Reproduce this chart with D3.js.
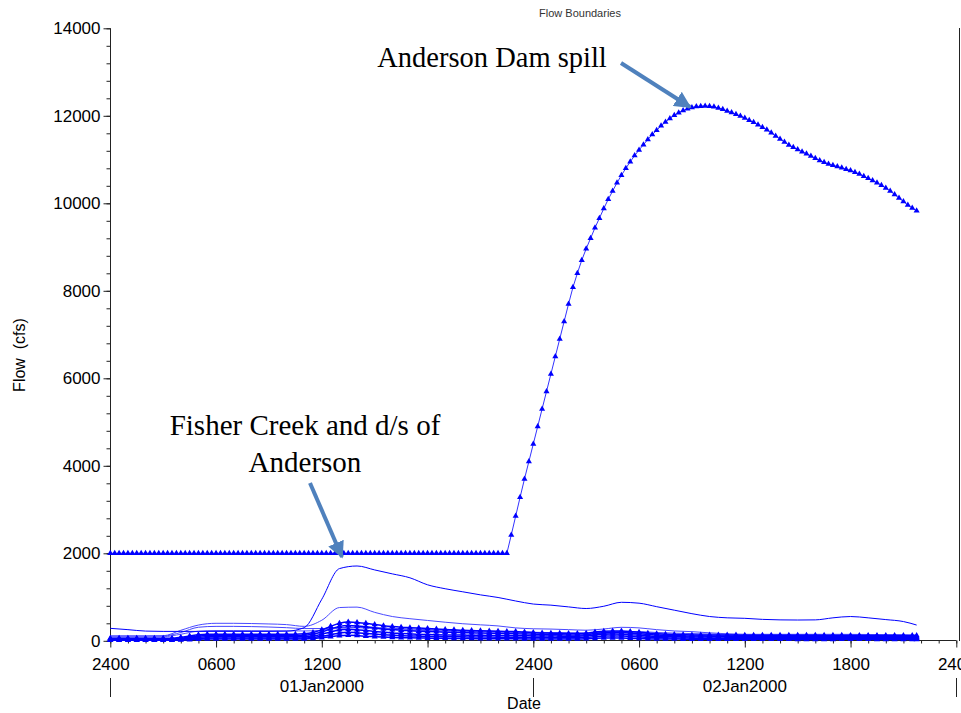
<!DOCTYPE html>
<html><head><meta charset="utf-8">
<script src="https://cdn.jsdelivr.net/npm/d3@7/dist/d3.min.js"></script>
<style>body{margin:0;background:#fff}svg{display:block}</style>
</head><body>
<svg id="c" width="961" height="713"></svg>
<script>
// ---------- DATA ----------
const chartTitle = "Flow Boundaries";
const yTicks = [0, 2000, 4000, 6000, 8000, 10000, 12000, 14000];
const xTickHours = [0, 6, 12, 18, 24, 30, 36, 42, 48];
const xTickLabels = ["2400","0600","1200","1800","2400","0600","1200","1800","2400"];
const dayHours = [12, 36];
const dayLabels = ["01Jan2000", "02Jan2000"];
const daySeparatorHours = [0, 24, 48];

// Anderson Dam spill, every 15 minutes from 2400 31Dec1999
const spillStepHours = 0.25;
const spillFlow = [
2000,2000,2000,2000,2000,2000,2000,2000,2000,2000,
2000,2000,2000,2000,2000,2000,2000,2000,2000,2000,
2000,2000,2000,2000,2000,2000,2000,2000,2000,2000,
2000,2000,2000,2000,2000,2000,2000,2000,2000,2000,
2000,2000,2000,2000,2000,2000,2000,2000,2000,2000,
2000,2000,2000,2000,2000,2000,2000,2000,2000,2000,
2000,2000,2000,2000,2000,2000,2000,2000,2000,2000,
2000,2000,2000,2000,2000,2000,2000,2000,2000,2000,
2000,2000,2000,2000,2000,2000,2000,2000,2000,2000,
2000,
2420,2850,3280,3700,4100,4500,4900,5300,5700,6100,
6500,6900,7300,7700,8080,8400,8700,8960,9200,9440,
9660,9880,10090,10280,10470,10640,10800,10950,11090,11220,
11340,11460,11570,11670,11770,11860,11940,12010,12070,12120,
12160,12190,12210,12220,12225,12220,12205,12180,12150,12110,
12075,12035,11995,11950,11900,11850,11795,11740,11680,11610,
11540,11470,11400,11330,11280,11230,11180,11130,11080,11030,
10980,10940,10900,10870,10840,10810,10780,10750,10710,10670,
10620,10570,10520,10470,10410,10350,10280,10200,10120,10040,
9960,9890,9830
];

// Hourly thin-line boundaries (last sample at 45.75 h)
const lineHours = [0,1,2,3,4,5,6,7,8,9,10,11,12,13,14,15,16,17,18,19,20,21,22,23,24,25,26,27,28,29,30,31,32,33,34,35,36,37,38,39,40,41,42,43,44,45,45.75];
const fisherFlow = [285,255,222,215,215,215,215,215,215,215,220,300,950,1650,1710,1620,1530,1440,1280,1190,1120,1050,990,910,840,815,775,738,790,880,860,780,700,620,555,525,514,490,478,475,478,525,555,525,485,440,360];
const line2Flow = [110,110,110,115,240,360,400,400,395,385,370,330,470,760,770,650,555,505,465,425,390,365,340,295,275,268,255,242,270,308,295,255,225,209,182,160,148,148,148,148,148,148,147,145,140,135,130];
const line3Flow = [110,110,110,110,190,310,330,330,325,315,300,280,280,300,310,300,285,270,255,240,230,222,215,205,195,188,182,178,195,215,210,190,175,165,155,148,145,140,135,135,135,140,145,140,135,130,120];
const line4Flow = [85,85,85,90,150,220,235,235,232,230,228,225,240,290,300,280,260,245,232,222,215,208,200,190,180,172,165,160,170,185,180,165,150,140,130,122,118,115,112,110,110,112,115,112,108,104,98];

// Half-hourly marked boundaries (last sample at 45.75 h)
const markHours = d3.range(0, 46, 0.5).concat([45.75]);
const mark1Flow = [60,60,60,60,60,60,60,60,80,110,140,150,
150,150,150,150,150,150,150,150,150,150,
160,190,250,330,400,430,420,400,370,345,325,310,300,290,280,270,260,250,240,235,230,225,220,215,210,200,190,180,175,170,168,168,175,200,220,225,225,215,195,175,160,150,145,140,135,135,130,
130,130,130,128,128,128,126,126,126,125,125,125,124,124,124,123,123,122,122,121,121,120,120,
120];
const mark2Flow = [30,30,30,30,30,30,30,30,40,60,80,90,
90,90,90,90,90,90,90,90,90,90,
95,110,150,200,250,265,255,235,215,195,180,170,160,150,145,140,135,132,130,128,126,124,122,120,118,115,112,110,108,106,105,106,115,135,150,155,150,140,125,110,100,95,92,90,88,86,85,
85,84,84,83,83,82,82,81,81,80,80,80,80,80,82,84,84,82,80,78,76,75,74,
72];
const mark3Flow = [15,15,15,15,15,15,15,15,18,25,35,40,
40,40,40,40,40,40,40,40,40,40,
42,50,70,95,115,125,120,105,95,85,78,72,68,64,60,58,56,54,52,50,49,48,47,46,45,44,43,42,41,40,40,41,46,55,62,64,62,56,50,45,42,40,39,38,37,36,36,
35,35,35,34,34,34,33,33,33,32,32,32,32,32,33,34,34,33,32,31,30,30,29,
28];
const mark4Flow = [45,45,45,45,45,45,45,45,60,85,110,120,
120,120,120,120,120,120,120,120,120,120,
128,150,200,270,330,350,340,320,295,270,255,240,230,220,212,205,198,192,186,182,178,174,170,166,162,156,150,144,140,136,134,134,140,165,185,190,188,178,160,142,130,122,118,114,110,108,106,
106,105,105,104,104,103,103,102,102,101,101,100,100,100,102,104,104,102,100,98,96,95,94,
92];
const mark5Flow = [22,22,22,22,22,22,22,22,28,40,55,62,
62,62,62,62,62,62,62,62,62,62,
66,78,105,140,180,195,185,170,155,140,128,120,112,106,100,97,94,92,90,88,86,85,84,82,80,78,76,74,72,70,70,72,80,95,108,112,108,98,88,78,72,68,65,63,61,60,59,
58,58,58,57,57,57,56,56,56,55,55,55,55,55,56,57,57,56,55,54,53,52,51,
50];

const annotations = [
  {lines: ["Anderson Dam spill"], cx: 492, y: 67, size: 28.5, from: [621, 63], to: [690, 107]},
  {lines: ["Fisher Creek and d/s of", "Anderson"], cx: 305, y: 435, size: 29, from: [310, 483], to: [342, 557]}
];

// ---------- CHART ----------
const svg = d3.select("#c");
const x = d3.scaleLinear().domain([0, 48]).range([110.3, 956.3]);
const y = d3.scaleLinear().domain([0, 14000]).range([640.8, 28.3]);
const SANS = "'Liberation Sans', Arial, sans-serif";
const SERIF = "'Liberation Serif', 'Times New Roman', serif";
const BLUE = "#0000ff";

// title
svg.append("text").attr("x", 580).attr("y", 17).attr("text-anchor", "middle")
  .attr("font-family", SANS).attr("font-size", 11).attr("fill", "#333").text(chartTitle);

// right frame line
svg.append("line").attr("x1", 959.5).attr("x2", 959.5).attr("y1", 28).attr("y2", 641)
  .attr("stroke", "#222").attr("stroke-width", 1);

// Y axis
const yMinor = d3.range(0, 14001, 400);
svg.append("g").attr("transform", "translate(110.5,0)")
  .call(d3.axisLeft(y).tickValues(yMinor).tickSize(4).tickFormat(""))
  .call(g => g.select(".domain").remove())
  .selectAll("line").attr("stroke", "#222");
const yAx = svg.append("g").attr("transform", "translate(110.5,0)")
  .call(d3.axisLeft(y).tickValues(yTicks).tickSize(7).tickPadding(3).tickFormat(d3.format("d")));
yAx.select(".domain").attr("stroke", "#222").attr("d", `M0,${y(14000)}V${y(0)}`);
yAx.selectAll("line").attr("stroke", "#222");
yAx.selectAll("text").attr("font-family", SANS).attr("font-size", 17).attr("fill", "#000");

// X axis
const xMinor = d3.range(0, 49, 1);
svg.append("g").attr("transform", "translate(0,640.5)")
  .call(d3.axisBottom(x).tickValues(xMinor).tickSize(3).tickFormat(""))
  .call(g => g.select(".domain").remove())
  .selectAll("line").attr("stroke", "#222");
const xAx = svg.append("g").attr("transform", "translate(0,640.5)")
  .call(d3.axisBottom(x).tickValues(xTickHours).tickSize(7).tickPadding(10)
    .tickFormat((d, i) => xTickLabels[i]));
xAx.select(".domain").attr("stroke", "#222").attr("d", `M${x(0)},0H${x(48)}`);
xAx.selectAll("line").attr("stroke", "#222");
xAx.selectAll("text").attr("font-family", SANS).attr("font-size", 17).attr("fill", "#000");

// day labels and separators
svg.append("g").selectAll("text").data(dayHours).join("text")
  .attr("x", d => x(d)).attr("y", 692).attr("text-anchor", "middle")
  .attr("font-family", SANS).attr("font-size", 17).text((d, i) => dayLabels[i]);
svg.append("g").selectAll("line").data(daySeparatorHours).join("line")
  .attr("x1", d => Math.round(x(d)) + 0.5).attr("x2", d => Math.round(x(d)) + 0.5)
  .attr("y1", 678).attr("y2", 697).attr("stroke", "#222");

// axis titles
svg.append("text").attr("x", 524).attr("y", 709).attr("text-anchor", "middle")
  .attr("font-family", SANS).attr("font-size", 16).text("Date");
svg.append("text").attr("transform", "translate(25,355) rotate(-90)").attr("text-anchor", "middle")
  .attr("font-family", SANS).attr("font-size", 16).attr("xml:space", "preserve")
  .style("white-space", "pre").text("Flow  (cfs)");

// series
const plot = svg.append("g");
const lineSmooth = d3.line().curve(d3.curveMonotoneX).x(d => x(d[0])).y(d => y(d[1]));
const lineStraight = d3.line().x(d => x(d[0])).y(d => y(d[1]));
const tri = d3.symbol().type(d3.symbolTriangle).size(16);

function drawLine(hours, vals, color, width, gen) {
  const pts = vals.map((v, i) => [hours[i], v]);
  plot.append("path").datum(pts).attr("d", gen).attr("fill", "none")
    .attr("stroke", color).attr("stroke-width", width);
  return pts;
}
function drawMarkers(pts, color) {
  plot.append("g").selectAll("path").data(pts).join("path")
    .attr("transform", d => `translate(${x(d[0])},${y(d[1])})`)
    .attr("d", tri).attr("fill", color);
}

drawLine(lineHours, line4Flow, "#5555ff", 1, lineSmooth);
drawLine(lineHours, line3Flow, "#4444ff", 1, lineSmooth);
drawLine(lineHours, line2Flow, "#4a4aff", 1, lineSmooth);
drawLine(lineHours, fisherFlow, BLUE, 1, lineSmooth);
[mark3Flow, mark5Flow, mark2Flow, mark4Flow, mark1Flow].forEach(vals => {
  const pts = drawLine(markHours, vals, BLUE, 1.5, lineSmooth);
  drawMarkers(pts, BLUE);
});
const spillHours = spillFlow.map((v, i) => i * spillStepHours);
const spillPts = drawLine(spillHours, spillFlow, "#3333ff", 1, lineStraight);
drawMarkers(spillPts, BLUE);

// annotations
svg.append("defs").append("marker").attr("id", "ah").attr("viewBox", "0 0 10 10")
  .attr("refX", 9).attr("refY", 5).attr("markerWidth", 4.2).attr("markerHeight", 4.2)
  .attr("markerUnits", "strokeWidth").attr("orient", "auto")
  .append("path").attr("d", "M0,0L10,5L0,10Z").attr("fill", "#4f81bd");
annotations.forEach(a => {
  const t = svg.append("text").attr("font-family", SERIF).attr("font-size", a.size)
    .attr("text-anchor", "middle").attr("fill", "#000");
  a.lines.forEach((l, i) => t.append("tspan").attr("x", a.cx).attr("y", a.y + i * 37).text(l));
  svg.append("line").attr("x1", a.from[0]).attr("y1", a.from[1])
    .attr("x2", a.to[0]).attr("y2", a.to[1])
    .attr("stroke", "#4f81bd").attr("stroke-width", 4).attr("marker-end", "url(#ah)");
});
</script>
</body></html>
